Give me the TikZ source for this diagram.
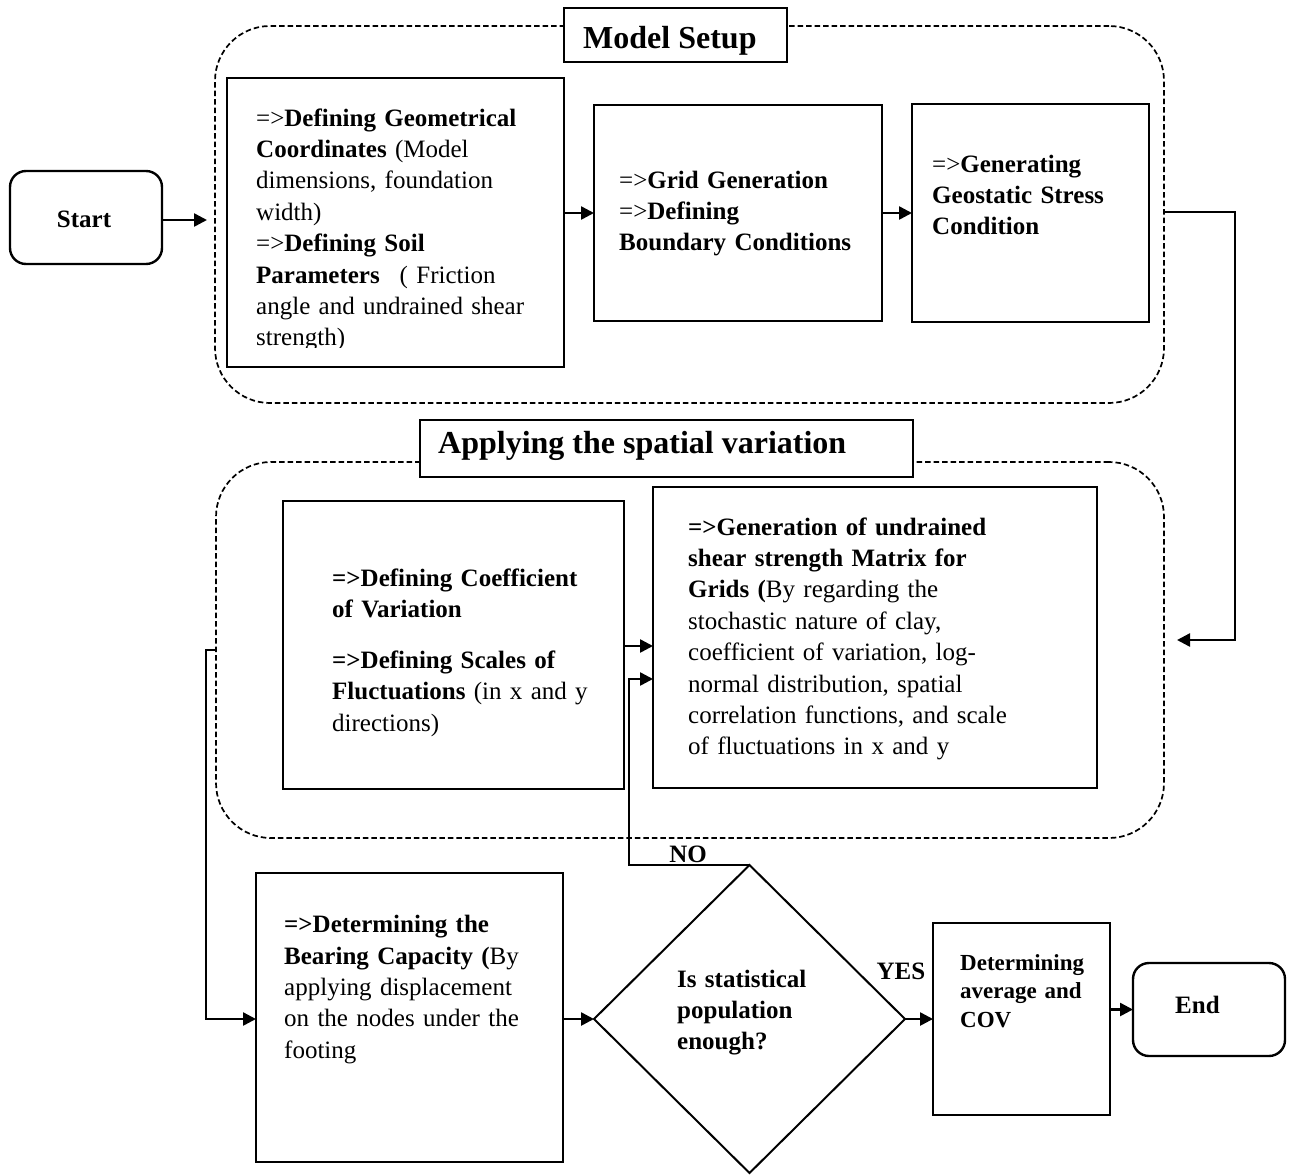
\documentclass[tikz,border=0pt]{standalone}
\usepackage{fontspec}
\setmainfont{Liberation Serif}
\usetikzlibrary{arrows.meta,shapes.geometric,calc}
\begin{document}
\begin{tikzpicture}[x=1pt,y=-1pt,
  box/.style={draw,line width=2.6pt,inner sep=0pt,outer sep=0pt},
  term/.style={draw,line width=2.4pt,rounded corners=16pt,inner sep=0pt,outer sep=0pt},
  group/.style={draw,dash pattern=on 5.5pt off 3pt,line width=1.7pt,rounded corners=55pt,inner sep=0pt,outer sep=0pt},
  ttl/.style={draw,fill=white,line width=1.4pt,inner sep=0pt,outer sep=0pt},
  dec/.style={draw,diamond,line width=2pt,inner sep=0pt,outer sep=0pt},
  arr/.style={line width=2.5pt,-{Triangle[length=13pt,width=13pt]}},
  txt/.style={anchor=base west,inner sep=0pt,text width=420pt,align=left,font=\fontsize{25}{31.4}\selectfont},
  txts/.style={anchor=base west,inner sep=0pt,text width=300pt,align=left,font=\fontsize{23}{28.5}\selectfont\bfseries},
  big/.style={anchor=base west,inner sep=0pt,font=\fontsize{32}{38}\selectfont\bfseries},
  lbl/.style={anchor=base,inner sep=0pt,font=\fontsize{25}{30}\selectfont\bfseries}]
\useasboundingbox (0,0) rectangle (1289,1175);

% containers
\node[group,minimum width=949pt,minimum height=377pt] (ms) at (689.5,214.5) {};
\node[group,minimum width=948pt,minimum height=376pt] (sv) at (690,650) {};
\node[ttl,minimum width=223pt,minimum height=54pt] (mst) at (675.5,35) {};
\node[ttl,minimum width=493pt,minimum height=57pt] (svt) at (666.5,448.5) {};
\node[big] (mstx) at (583,48) {Model Setup};
\node[big] (svtx) at (438,453) {Applying the spatial variation};

% boxes
\node[term,minimum width=152pt,minimum height=93pt] (start) at (86,217.5) {};
\node[lbl] (startx) at (84,227) {Start};
\node[box,minimum width=337pt,minimum height=289pt] (b1) at (395.5,222.5) {};
\node[box,minimum width=288pt,minimum height=216pt] (b2) at (738,213) {};
\node[box,minimum width=237pt,minimum height=218pt] (b3) at (1030.5,213) {};
\node[box,minimum width=341pt,minimum height=288pt] (b4) at (453.5,645) {};
\node[box,minimum width=444pt,minimum height=301pt] (b5) at (875,637.5) {};
\node[box,minimum width=307pt,minimum height=289pt] (b6) at (409.5,1017.5) {};
\node[dec,minimum width=311pt,minimum height=308pt] (dia) at (749.5,1019) {};
\node[box,minimum width=177pt,minimum height=192pt] (b7) at (1021.5,1019) {};
\node[term,minimum width=152pt,minimum height=93pt] (end) at (1209,1009.5) {};
\node[lbl,anchor=base west] (endx) at (1175,1013) {End};

% texts
\begin{scope}
\clip (b1.north west) rectangle ([yshift=20pt]b1.south east);
\node[txt] (b1x) at (256,126) {=>\textbf{Defining Geometrical}\\
\textbf{Coordinates} (Model\\
dimensions, foundation\\
width)\\
=>\textbf{Defining Soil}\\
\textbf{Parameters}\hspace*{20pt}( Friction\\
angle and undrained shear\\
strength)};
\end{scope}
\node[txt] (b2x) at (619,188) {=>\textbf{Grid Generation}\\
=>\textbf{Defining}\\
\textbf{Boundary Conditions}};
\node[txt] (b3x) at (932,172) {=>\textbf{Generating}\\
\textbf{Geostatic Stress}\\
\textbf{Condition}};
\node[txt] (b4x) at (332,586) {\textbf{=>Defining Coefficient}\\
\textbf{of Variation}\\[19.6pt]
\textbf{=>Defining Scales of}\\
\textbf{Fluctuations} (in x and y\\
directions)};
\node[txt] (b5x) at (688,535) {\textbf{=>Generation of undrained}\\
\textbf{shear strength Matrix for}\\
\textbf{Grids (}By regarding the\\
stochastic nature of clay,\\
coefficient of variation, log-\\
normal distribution, spatial\\
correlation functions, and scale\\
of fluctuations in x and y};
\node[txt] (b6x) at (284,932.7) {\textbf{=>Determining the}\\
\textbf{Bearing Capacity (}By\\
applying displacement\\
on the nodes under the\\
footing};
\node[txt] (diax) at (677,987) {\textbf{Is statistical}\\
\textbf{population}\\
\textbf{enough?}};
\node[txts] (b7x) at (960,970) {Determining\\
average and\\
COV};
\node[lbl] (nox) at (688,862) {NO};
\node[lbl] (yesx) at (901,979) {YES};

% connectors
\coordinate (sa) at (207,220);
\draw[arr] (start.east |- sa) -- (sa);
\draw[arr] (b1.east |- b2.west) -- (b2.west);
\draw[arr] (b2.east) -- (b3.west);
\coordinate (rl) at (1235,212);
\coordinate (rt) at (1177,640);
\draw[arr] (ms.east |- rl) -- (rl) |- (rt);
\draw[arr] ([yshift=-1pt]b4.east) -- ([yshift=-1pt]b4.east -| b5.west);
\coordinate (nl) at (629,865);
\draw[arr] (dia.north) -- (nl) |- ([yshift=-41.5pt]b5.west);
\coordinate (ll) at (206,650);
\draw[arr] (sv.west) -- (ll) |- (b6.west |- dia.west);
\draw[arr] (b6.east |- dia.west) -- (dia.west);
\draw[arr] (dia.east) -- (b7.west |- dia.east);
\draw[arr] (b7.east |- end.west) -- (end.west);
\end{tikzpicture}
\end{document}
